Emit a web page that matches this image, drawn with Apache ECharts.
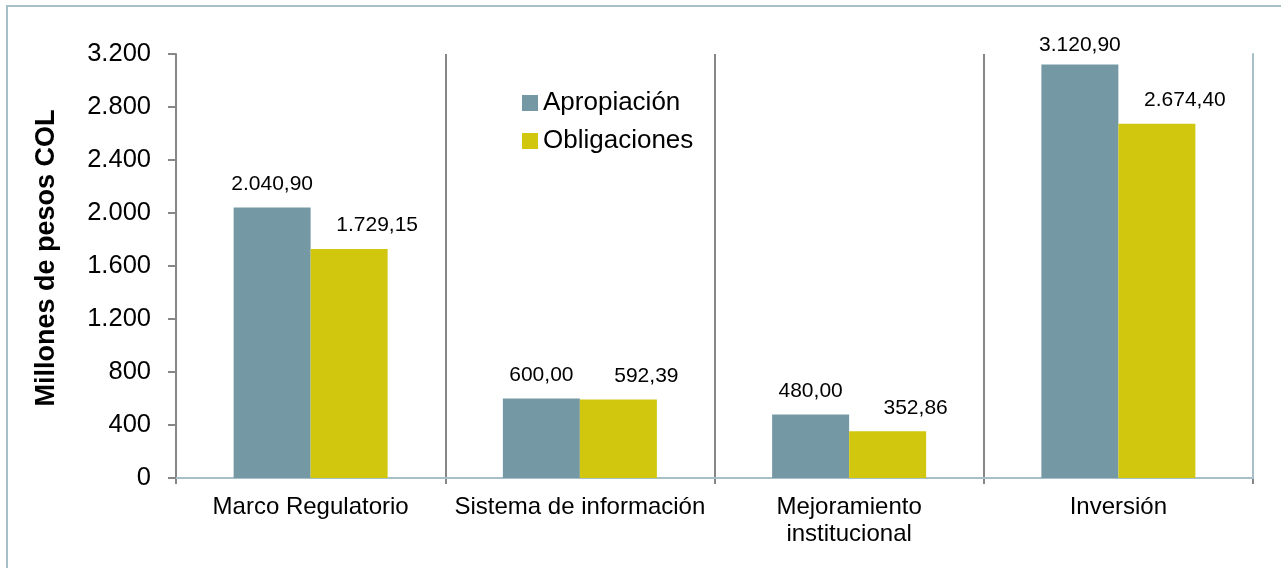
<!DOCTYPE html>
<html>
<head>
<meta charset="utf-8">
<title>Apropiación vs Obligaciones</title>
<script src="https://cdn.jsdelivr.net/npm/echarts@6/dist/echarts.min.js"></script>
<style>
  html, body { margin: 0; padding: 0; background: #fff; }
  #chart { width: 1281px; height: 568px; }
</style>
</head>
<body>
<div id="chart"></div>
<script>
// datos del gráfico
const categorias = ['Marco Regulatorio', 'Sistema de información', 'Mejoramiento\ninstitucional', 'Inversión'];
const apropiacion = [2040.90, 600.00, 480.00, 3120.90];
const obligaciones = [1729.15, 592.39, 352.86, 2674.40];
const nombresSeries = ['Apropiación', 'Obligaciones'];

const FONT = 'Liberation Sans, Arial, sans-serif';
const BORDE = '#a6bfc9';
const GRIS = '#878787';

// 2040.9 -> "2.040,90"
function fmtNum(v, dec) {
  let s = v.toFixed(dec);
  let partes = s.split('.');
  let ent = partes[0].replace(/\B(?=(\d{3})+(?!\d))/g, '.');
  return partes.length > 1 ? ent + ',' + partes[1] : ent;
}

let myChart = echarts.init(document.getElementById('chart'));

const labelBase = {
  show: true,
  position: 'top',
  distance: 13,
  fontFamily: FONT,
  fontSize: 21,
  color: '#000',
  backgroundColor: '#fff',
  padding: [0, 8],
  formatter: p => fmtNum(p.value, 2)
};

let option = {
  backgroundColor: '#fff',
  animation: false,
  graphic: [{
    type: 'rect',
    shape: { x: 7, y: 6, width: 1400, height: 700 },
    style: { fill: null, stroke: BORDE, lineWidth: 2 }
  }],
  grid: {
    left: 176,
    top: 54,
    right: 28,
    bottom: 90,
    outerBoundsMode: 'none'
  },
  legend: {
    orient: 'vertical',
    left: 517,
    top: 85,
    itemWidth: 16,
    itemHeight: 16,
    itemGap: 12,
    icon: 'rect',
    textStyle: { fontFamily: FONT, fontSize: 26, color: '#000' },
    data: nombresSeries
  },
  xAxis: [{
    type: 'category',
    data: categorias,
    z: 0,
    axisLine: { lineStyle: { color: GRIS, width: 2 } },
    axisTick: { show: true, interval: 0, length: 6, lineStyle: { color: GRIS, width: 2 } },
    splitLine: { show: true, interval: 0, lineStyle: { color: GRIS, width: 2 } },
    axisLabel: {
      interval: 0,
      fontFamily: FONT,
      fontSize: 24,
      color: '#000',
      margin: 16,
      lineHeight: 27
    }
  }, {
    // borde superior del área de trazado
    type: 'category',
    data: categorias,
    position: 'top',
    z: 1,
    axisLine: { lineStyle: { color: BORDE, width: 2 } },
    axisTick: { show: false },
    axisLabel: { show: false },
    splitLine: { show: false }
  }],
  yAxis: [{
    type: 'value',
    min: 0,
    max: 3200,
    interval: 400,
    z: 1,
    name: 'Millones de pesos COL',
    nameLocation: 'middle',
    nameGap: 116,
    nameTextStyle: {
      fontFamily: FONT, fontSize: 27, fontWeight: 'bold', color: '#000',
      padding: [0, 0, 0, 16]
    },
    axisLine: { show: true, lineStyle: { color: GRIS, width: 2 } },
    axisTick: { show: true, length: 8, lineStyle: { color: GRIS, width: 2 } },
    splitLine: { show: false },
    axisLabel: {
      fontFamily: FONT,
      fontSize: 25.5,
      color: '#000',
      margin: 25,
      formatter: v => fmtNum(v, 0)
    }
  }, {
    // borde derecho del área de trazado
    type: 'value',
    min: 0,
    max: 3200,
    interval: 400,
    position: 'right',
    z: 1,
    axisLine: { show: true, lineStyle: { color: BORDE, width: 2 } },
    axisTick: { show: false },
    axisLabel: { show: false },
    splitLine: { show: false }
  }],
  series: [
    {
      name: nombresSeries[0],
      type: 'bar',
      barWidth: 77,
      barGap: '0%',
      itemStyle: { color: '#7599a4' },
      label: labelBase,
      data: apropiacion.map((v, i) => i === 3 ? { value: v, label: { distance: 9 } } : v)
    },
    {
      name: nombresSeries[1],
      type: 'bar',
      barWidth: 77,
      barGap: '0%',
      itemStyle: { color: '#d1c70f' },
      label: Object.assign({}, labelBase, { offset: [28, 0] }),
      data: obligaciones
    }
  ]
};

myChart.setOption(option, true);
window.addEventListener('resize', () => {
  myChart.resize();
});
</script>
</body>
</html>
